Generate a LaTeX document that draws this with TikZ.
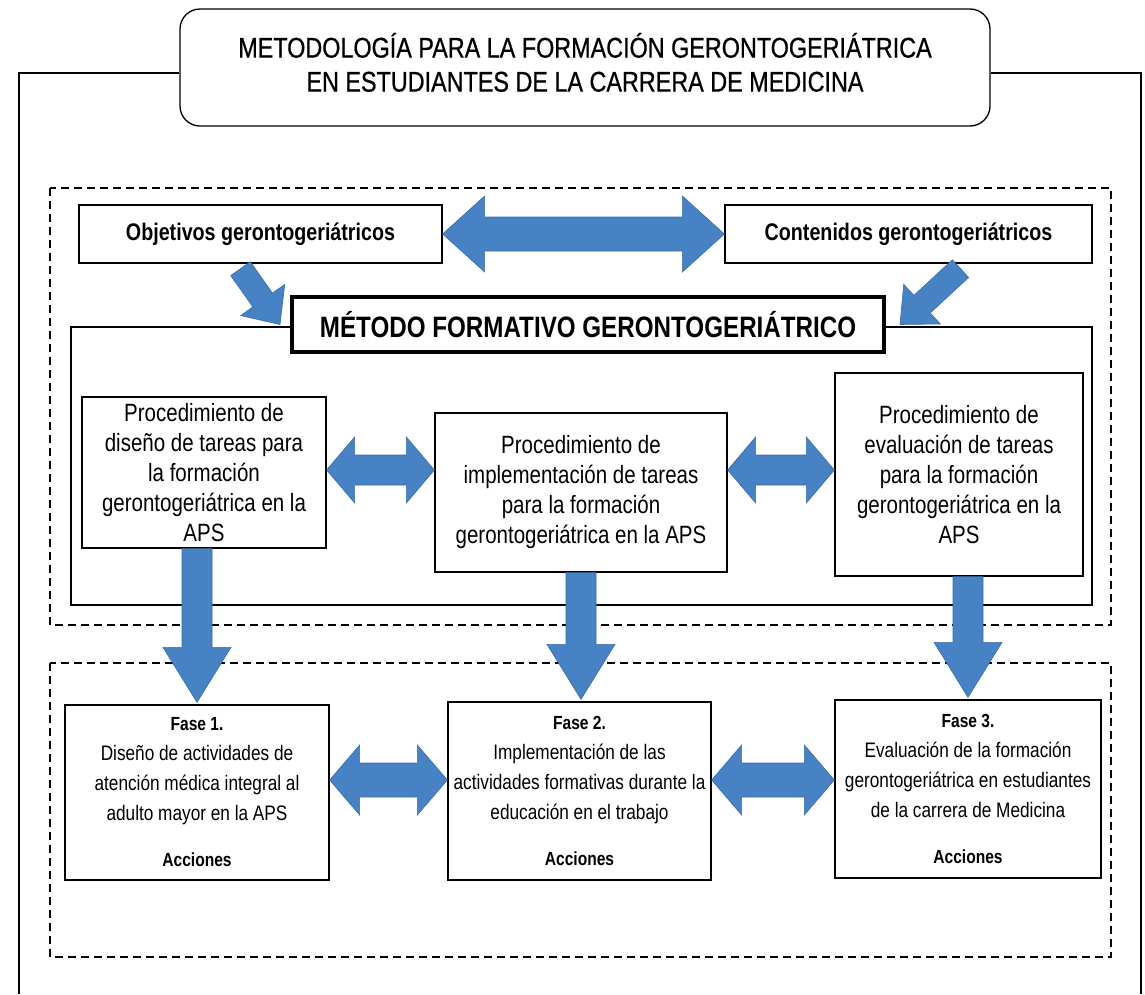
\documentclass[tikz,border=0pt]{standalone}
\usepackage{fontspec}
\setmainfont[FakeStretch=0.82]{Liberation Sans}
\newfontfamily\titlefont[FakeStretch=0.82,FakeBold=0.7]{Liberation Sans}
\usetikzlibrary{calc}
\definecolor{ablue}{RGB}{70,130,196}
\definecolor{aedge}{RGB}{58,110,170}
\newcommand\flabfont{\bfseries\fontsize{19}{30}\selectfont}

% single block arrow: from #1 to tip #2, shaft half width #3, head half width #4, head length #5
\newcommand\sarrow[5]{%
  \coordinate (hh) at ($(#2)!#5!(#1)$);
  \filldraw[barrow] ($(#1)!#3!90:(#2)$) -- ($(hh)!#3!90:(#2)$) -- ($(hh)!#4!90:(#2)$) -- (#2)
    -- ($(hh)!#4!-90:(#2)$) -- ($(hh)!#3!-90:(#2)$) -- ($(#1)!#3!-90:(#2)$) -- cycle;}
% double block arrow between #1 and #2
\newcommand\darrow[5]{%
  \coordinate (ha) at ($(#1)!#5!(#2)$);
  \coordinate (hb) at ($(#2)!#5!(#1)$);
  \filldraw[barrow] (#1) -- ($(ha)!#4!90:(#2)$) -- ($(ha)!#3!90:(#2)$) -- ($(hb)!#3!90:(#2)$)
    -- ($(hb)!#4!90:(#2)$) -- (#2) -- ($(hb)!#4!-90:(#2)$) -- ($(hb)!#3!-90:(#2)$)
    -- ($(ha)!#3!-90:(#2)$) -- ($(ha)!#4!-90:(#2)$) -- cycle;}

\begin{document}
\begin{tikzpicture}[x=1pt,y=-1pt,
  box/.style={draw, line width=1.3pt, fill=white, align=center, inner sep=0pt},
  dashbox/.style={draw, line width=1.4pt, dash pattern=on 8pt off 5pt},
  frameline/.style={draw, line width=1.4pt},
  barrow/.style={fill=ablue, draw=aedge, line width=0.6pt, line join=miter},
  head/.style={box, minimum height=58pt, font=\bfseries\fontsize{24}{28}\selectfont},
  proc/.style={box, font=\fontsize{25}{30}\selectfont},
  fase/.style={box, font=\fontsize{21}{30}\selectfont},
]
\useasboundingbox (0,0) rectangle (1145,994);
\coordinate (ftop) at (0,73);
\coordinate (fbl) at (19,994);
\coordinate (fbr) at (1141,994);
\coordinate (m1) at (0,470);
\coordinate (m2) at (0,780);

% containers
\draw[dashbox] (50,188) rectangle (1111,625);
\draw[dashbox] (50,663) rectangle (1111,957);
\draw[frameline] (71,327) rectangle (1092,605);

% title and outer frame
\node[box, rounded corners=20pt, minimum width=810pt, minimum height=117pt,
      font=\titlefont\fontsize{28.5}{35}\selectfont] (title) at (585,67.5)
  {\raisebox{4pt}{\begin{tabular}{@{}c@{}}METODOLOGÍA PARA LA FORMACIÓN GERONTOGERIÁTRICA\\[-1pt]EN ESTUDIANTES DE LA CARRERA DE MEDICINA\end{tabular}}};
\draw[frameline] (title.west |- ftop) -| (fbl);
\draw[frameline] (title.east |- ftop) -| (fbr);

% top row
\node[head, minimum width=363pt] (obj) at (260.5,234) {Objetivos gerontogeriátricos};
\node[head, minimum width=367pt] (cont) at (908.5,234) {Contenidos gerontogeriátricos};
\node[box, line width=4pt, minimum width=592pt, minimum height=55pt,
      font=\bfseries\fontsize{29.5}{34}\selectfont] (met) at (588,324.5)
  {MÉTODO FORMATIVO GERONTOGERIÁTRICO};

% procedures
\node[proc, minimum width=244pt, minimum height=151pt] (p1) at (204,472.5)
  {Procedimiento de\\diseño de tareas para\\la formación\\gerontogeriátrica en la\\APS};
\node[proc, minimum width=292pt, minimum height=159pt] (p2) at (581,492.5)
  {Procedimiento de\\implementación de tareas\\para la formación\\gerontogeriátrica en la APS};
\node[proc, minimum width=248pt, minimum height=203pt] (p3) at (959,474.5)
  {Procedimiento de\\evaluación de tareas\\para la formación\\gerontogeriátrica en la\\APS};

% phases
\node[fase, minimum width=264pt, minimum height=175pt] (f1) at (197,792.5)
  {{\flabfont Fase 1.}\\Diseño de actividades de\\atención médica integral al\\adulto mayor en la APS\\[16pt]{\flabfont Acciones}};
\node[fase, minimum width=263pt, minimum height=178pt] (f2) at (579.5,791)
  {{\flabfont Fase 2.}\\Implementación de las\\actividades formativas durante la\\educación en el trabajo\\[16pt]{\flabfont Acciones}};
\node[fase, minimum width=266pt, minimum height=178pt] (f3) at (968,789)
  {{\flabfont Fase 3.}\\Evaluación de la formación\\gerontogeriátrica en estudiantes\\de la carrera de Medicina\\[16pt]{\flabfont Acciones}};

% arrows: top row
\darrow{obj.east}{cont.west}{17pt}{38pt}{42pt}
\coordinate (d1s) at ([xshift=-20pt,yshift=-5pt]obj.south);
\coordinate (d1e) at ([xshift=-10pt]met.west);
\sarrow{d1s}{d1e}{12pt}{27pt}{30pt}
\coordinate (d2s) at ([xshift=52pt,yshift=-5pt]cont.south);
\coordinate (d2e) at ([xshift=14pt]met.east);
\sarrow{d2s}{d2e}{12pt}{27pt}{30pt}

% arrows between procedures
\coordinate (h1a) at (p1.east |- m1);
\coordinate (h1b) at (p2.west |- m1);
\darrow{h1a}{h1b}{15pt}{33pt}{28pt}
\coordinate (h2a) at (p2.east |- m1);
\coordinate (h2b) at (p3.west |- m1);
\darrow{h2a}{h2b}{15pt}{33pt}{28pt}

% down arrows
\coordinate (v1s) at (f1.north |- p1.south);
\coordinate (v1e) at ([yshift=2pt]f1.north);
\sarrow{v1s}{v1e}{15pt}{34pt}{55pt}
\coordinate (v2s) at (p2.south);
\coordinate (v2e) at ([yshift=2pt]p2.south |- f2.north);
\sarrow{v2s}{v2e}{15pt}{34pt}{55pt}
\coordinate (v3s) at (f3.north |- p3.south);
\coordinate (v3e) at ([yshift=2pt]f3.north);
\sarrow{v3s}{v3e}{15pt}{34pt}{55pt}

% arrows between phases
\coordinate (g1a) at (f1.east |- m2);
\coordinate (g1b) at (f2.west |- m2);
\darrow{g1a}{g1b}{17pt}{35pt}{30pt}
\coordinate (g2a) at (f2.east |- m2);
\coordinate (g2b) at (f3.west |- m2);
\darrow{g2a}{g2b}{17pt}{35pt}{30pt}
\end{tikzpicture}
\end{document}
